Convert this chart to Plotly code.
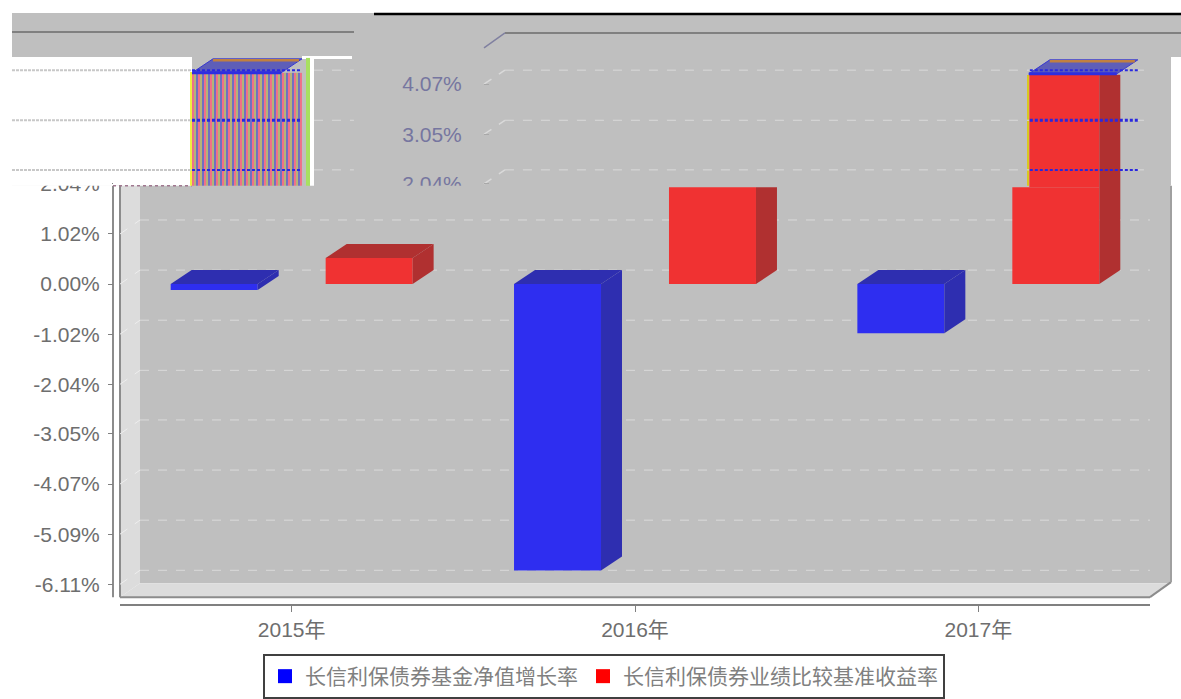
import plotly.graph_objects as go

# ---------- data ----------
years = ["2015年", "2016年", "2017年"]
fund_name = "长信利保债券基金净值增长率"
bench_name = "长信利保债券业绩比较基准收益率"
fund_values = [-0.12, -5.83, -1.00]
bench_values = [0.53, 1.97, 1.97]          # part of the bars below the displaced band
bench_band_tops = [None, 4.30, 4.26]       # bar tops seen inside the displaced band
tick_values = [2.04, 1.02, 0.00, -1.02, -2.04, -3.05, -4.07, -5.09, -6.11]
tick_labels = ["2.04%", "1.02%", "0.00%", "-1.02%", "-2.04%", "-3.05%", "-4.07%", "-5.09%", "-6.11%"]
band_tick_values = [4.07, 3.05, 2.04]
band_tick_labels = ["4.07%", "3.05%", "2.04%"]

# ---------- geometry ----------
W, H = 1181, 699
X_STEP, Y_STEP = 343.4, 49.2
Y_ZERO = 284.5
def X(px): return (px - 120) / X_STEP - 0.5
def V(py): return (Y_ZERO - py) / Y_STEP
DX, DY = 21 / X_STEP, 14 / Y_STEP
BAR_W = 87 / X_STEP
FUND_OFF, BENCH_OFF = -121 / X_STEP, 34 / X_STEP

BLUE, BLUE_D = "#2E2EF0", "#2E2EB0"
RED, RED_D = "#F03232", "#B03030"
WALL, LIGHT, EDGE = "#BFBFBF", "#DCDCDC", "#8C8C8C"
FONT = "Liberation Sans, Noto Sans CJK SC"

shapes = []
def prect(x0, y0, x1, y1, color, layer="below"):
    shapes.append(dict(type="rect", xref="paper", yref="paper", layer=layer,
                       x0=x0 / W, x1=x1 / W, y0=1 - y0 / H, y1=1 - y1 / H,
                       fillcolor=color, line_width=0))
def pline(x0, y0, x1, y1, color, width=1, dash="solid", layer="below"):
    shapes.append(dict(type="line", xref="paper", yref="paper", layer=layer,
                       x0=x0 / W, x1=x1 / W, y0=1 - y0 / H, y1=1 - y1 / H,
                       line=dict(color=color, width=width, dash=dash)))
def ppoly(pts, color):
    d = "M" + "L".join(f"{x / W},{1 - y / H}" for x, y in pts) + "Z"
    shapes.append(dict(type="path", xref="paper", yref="paper", layer="below",
                       path=d, fillcolor=color, line_width=0))

# walls and floor
prect(140, 13, 1170, 584, WALL)
ppoly([(120, 186), (140, 186), (140, 584), (120, 598)], LIGHT)
ppoly([(120, 598), (140, 584), (1170, 584), (1150, 598)], LIGHT)
pline(120, 186, 120, 598, EDGE, 2)
pline(120, 598, 1150, 598, EDGE, 2)
pline(1150, 598, 1171, 583, EDGE, 2)
pline(1171, 186, 1171, 583, "#A0A0A0", 2)
pline(113, 186, 113, 598, EDGE, 2)

# displaced band
prect(12, 13, 1181, 57, WALL)
prect(12, 57, 1171, 186, WALL)
prect(12, 57, 192, 186, "#FFFFFF")
prect(1172, 58, 1181, 186, "#FFFFFF")
prect(302, 56, 352, 59, "#FFFFFF")
prect(306, 58, 310, 186, "#A8E060")
prect(310, 58, 314, 186, "#FFFFFF")
pline(374, 14, 1181, 14, "#000000", 2.5)
pline(12, 32, 354, 32, "#808080", 2)
pline(505, 33, 1181, 33, "#808080", 2)
pline(484, 48, 505, 33, "#8080A0", 1.5)
pline(113, 186, 192, 186, "#A07890", 1.5, "dot")
pline(191, 72, 191, 186, "#F0F040", 2)
pline(1028, 75, 1028, 186, "#D8C820", 2)

# back-wall grid lines, from the tick values
def grid(v, xa, xb, color="#DADADA", width=1, dash="dash"):
    shapes.append(dict(type="line", layer="between", xref="x", yref="y",
                       x0=X(xa), x1=X(xb), y0=v + DY, y1=v + DY,
                       line=dict(color=color, width=width, dash=dash)))
for v in tick_values:
    if v > 2:
        continue
    grid(v, 140, 1170)
    shapes.append(dict(type="line", layer="between", xref="x", yref="y",
                       x0=X(120), x1=X(140), y0=v, y1=v + DY,
                       line=dict(color="#EEEEEE", width=1, dash="dash")))
for v in band_tick_values:
    py = Y_ZERO - (v + DY) * Y_STEP
    pline(12, py, 192, py, "#C8C8C8", 2, "3px,1px")
    grid(v, 314, 354)
    grid(v, 505, 1172)
    shapes.append(dict(type="line", layer="between", xref="x", yref="y",
                       x0=X(484), x1=X(505), y0=v, y1=v + DY,
                       line=dict(color="#DADADA", width=1.5, dash="dash")))

# stripes of the displaced 2016 bar
stripe_colors = ["#F07088", "#B4B478", "#7070C0"]
n_stripes = 55
for i in range(n_stripes):
    a = 192 + i * 2
    shapes.append(dict(type="rect", layer="between", xref="x", yref="y",
                       x0=X(a), x1=X(a + 2),
                       y0=V(186), y1=bench_band_tops[1],
                       fillcolor=stripe_colors[i % 3], line_width=0))

fig = go.Figure()

# front faces
centres = list(range(len(years)))
fig.add_trace(go.Bar(x=centres, y=fund_values, width=BAR_W, offset=FUND_OFF,
                     marker=dict(color=BLUE, line_width=0), showlegend=False))
fig.add_trace(go.Bar(x=centres, y=bench_values, width=BAR_W, offset=BENCH_OFF,
                     marker=dict(color=RED, line_width=0), showlegend=False))
fig.add_trace(go.Bar(x=[centres[2]], base=[bench_values[2]],
                     y=[bench_band_tops[2] - bench_values[2]],
                     width=70 / X_STEP, offset=(1029 - 978) / X_STEP,
                     marker=dict(color=RED, line_width=0), showlegend=False))

def poly(xs, ys, color, line=None):
    fig.add_trace(go.Scatter(x=xs, y=ys, mode="lines", fill="toself", fillcolor=color,
                             line=dict(color=line or color, width=1 if line else 0),
                             showlegend=False, hoverinfo="skip"))

def faces(x0, v, dark, cap=True):
    lo, hi = min(0, v), max(0, v)
    x1 = x0 + BAR_W
    poly([x1, x1 + DX, x1 + DX, x1, x1], [lo, lo + DY, hi + DY if cap else hi, hi, lo], dark)
    if cap:
        poly([x0, x0 + DX, x1 + DX, x1, x0], [hi, hi + DY, hi + DY, hi, hi], dark)

for c, v in zip(centres, fund_values):
    faces(c + FUND_OFF, v, BLUE_D)
faces(0 + BENCH_OFF, bench_values[0], RED_D)
faces(1 + BENCH_OFF, bench_values[1], RED_D, cap=False)
# 2017 side face runs to the band top
x1 = 2 + BENCH_OFF + BAR_W
t = bench_band_tops[2]
poly([x1, x1 + DX, x1 + DX, x1, x1], [0, DY, t, t, 0], RED_D)

# caps inside the band
def band_cap(xa, xb, top):
    poly([X(xa), X(xa) + DX, X(xb), X(xb) - DX, X(xa)], [top, top + DY, top + DY, top, top], "#5E5EB8", "#3838D0")
    fig.add_trace(go.Scatter(x=[X(xa) + DX, X(xb) - 3 / X_STEP], y=[top + DY - 0.03] * 2, mode="lines",
                             line=dict(color="#C08040", width=2.5), showlegend=False, hoverinfo="skip"))
    fig.add_trace(go.Scatter(x=[X(xa), X(xb) - DX], y=[top, top], mode="lines",
                             line=dict(color="#2E2EE0", width=3), showlegend=False, hoverinfo="skip"))
band_cap(192, 302, bench_band_tops[1])
band_cap(1029, 1138, bench_band_tops[2] + 0.02)

# dotted blue grid remnants across the displaced bars
for v in band_tick_values:
    for xa, xb, w in ((192, 302, 3 if v == 3.05 else 2), (1030, 1138, 3 if v == 3.05 else 2)):
        fig.add_trace(go.Scatter(x=[X(xa), X(xb)], y=[v + DY, v + DY], mode="lines",
                                 line=dict(color="#2828E0", width=w, dash="3px,2px"),
                                 showlegend=False, hoverinfo="skip"))

# legend entries
fig.add_trace(go.Scatter(x=[None], y=[None], mode="markers", name=fund_name,
                         marker=dict(symbol="square", size=14, color="#0000FF")))
fig.add_trace(go.Scatter(x=[None], y=[None], mode="markers", name=bench_name,
                         marker=dict(symbol="square", size=14, color="#FF0000")))

# covers that cut tick labels at the band edge
prect(12, 172, 112, 186, "#FFFFFF", layer="above")
prect(395, 186, 482, 200, WALL, layer="above")

y_range = [V(605), V(0)]
fig.update_layout(
    width=W, height=H, autosize=False,
    margin=dict(l=0, r=0, t=0, b=0),
    paper_bgcolor="#FFFFFF", plot_bgcolor="rgba(0,0,0,0)",
    barmode="overlay", shapes=shapes, hovermode=False,
    font=dict(family=FONT, color="#6E6E6E"),
    xaxis=dict(domain=[120 / W, 1150 / W], range=[-0.5, 2.5], tickmode="array",
               tickvals=centres, ticktext=years, ticks="outside", ticklen=6,
               tickcolor="#808080", showline=True, linecolor="#808080", linewidth=2,
               showgrid=False, zeroline=False, tickfont=dict(size=21, color="#6E6E6E")),
    yaxis=dict(domain=[(H - 605) / H, 1], range=y_range, anchor="free", position=113 / W,
               tickmode="array", tickvals=tick_values, ticktext=tick_labels,
               ticks="outside", ticklen=5, ticklabelstandoff=4, tickcolor="#808080", showgrid=False,
               zeroline=False, showline=False, tickfont=dict(size=21, color="#6E6E6E")),
    yaxis2=dict(domain=[(H - 605) / H, 1], range=y_range, overlaying="y", anchor="free",
                position=489 / W, tickmode="array", tickvals=band_tick_values,
                ticktext=band_tick_labels, ticks="outside", ticklen=5, ticklabelstandoff=18,
                tickcolor="#A8A8A8", showgrid=False, zeroline=False, showline=False,
                tickfont=dict(size=21, color="#7676A0")),
    legend=dict(orientation="h", x=263 / W, y=(H - 655) / H, xanchor="left", yanchor="top",
                bgcolor="#FFFFFF", bordercolor="#404040", borderwidth=2,
                font=dict(size=21, color="#808080", family="Noto Sans CJK SC"),
                itemsizing="trace", tracegroupgap=0),
)
# keep the band tick labels on a real overlaying axis
fig.add_trace(go.Scatter(x=[None], y=[None], yaxis="y2", showlegend=False, hoverinfo="skip"))

fig.write_html("out.html", config=dict(displayModeBar=False),
               post_script="document.body.style.margin='0';document.documentElement.style.overflow='hidden';")
